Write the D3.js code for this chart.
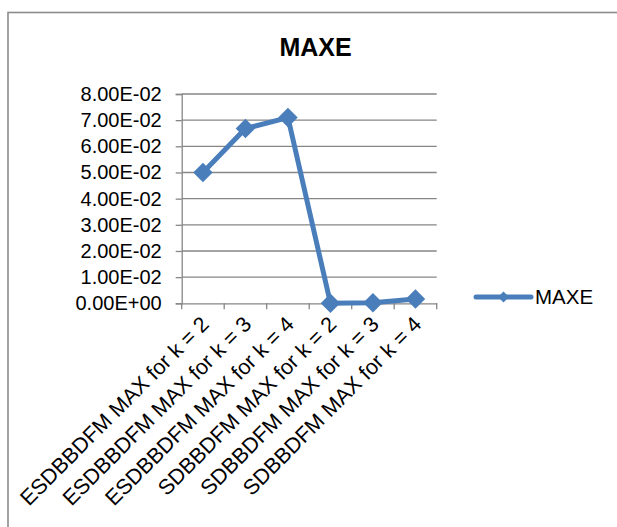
<!DOCTYPE html>
<html>
<head>
<meta charset="utf-8">
<script src="https://cdn.jsdelivr.net/npm/d3@7"></script>
<style>
  html, body { margin: 0; padding: 0; background: #fff; }
  svg { display: block; font-family: Arial, "Liberation Sans", sans-serif; }
</style>
</head>
<body>
<svg id="chart" width="617" height="527"></svg>
<script>
// Chart data
const categories = [
  "ESDBBDFM MAX for k = 2",
  "ESDBBDFM MAX for k = 3",
  "ESDBBDFM MAX for k = 4",
  "SDBBDFM MAX for k = 2",
  "SDBBDFM MAX for k = 3",
  "SDBBDFM MAX for k = 4"
];
const maxeValues = [0.0500, 0.0668, 0.0710, 0.0000, 0.0002, 0.0016];
const yTicks = [0, 0.01, 0.02, 0.03, 0.04, 0.05, 0.06, 0.07, 0.08];
const seriesName = "MAXE";
const chartTitle = "MAXE";

const blue = "#4a7ebb";
const gridColor = "#868686";

const svg = d3.select("#chart");

// Outer chart frame
svg.append("rect")
  .attr("x", 8).attr("y", 12.5)
  .attr("width", 640).attr("height", 560)
  .attr("fill", "none")
  .attr("stroke", "#8c8c8c")
  .attr("stroke-width", 1.6);

// Title
svg.append("text")
  .attr("x", 315.5).attr("y", 56)
  .attr("text-anchor", "middle")
  .attr("font-size", 25).attr("font-weight", "bold")
  .text(chartTitle);

const plot = { left: 181.7, right: 436.7, top: 94, bottom: 303.3 };

const x = d3.scaleBand().domain(categories).range([plot.left, plot.right]);
const y = d3.scaleLinear().domain([0, 0.08]).range([plot.bottom, plot.top]);

// E-notation tick format, e.g. 8.00E-02
const fmt = v => {
  const [m, e] = v.toExponential(2).split("e");
  const sign = e[0];
  const digits = e.slice(1).padStart(2, "0");
  return `${m}E${sign}${digits}`;
};

// Horizontal gridlines
svg.append("g")
  .selectAll("line")
  .data(yTicks.filter(t => t > 0))
  .join("line")
  .attr("x1", plot.left).attr("x2", plot.right)
  .attr("y1", d => y(d)).attr("y2", d => y(d))
  .attr("stroke", gridColor).attr("stroke-width", 1.3);

// Y axis
const yAxis = svg.append("g")
  .attr("transform", `translate(${plot.left},0)`)
  .call(d3.axisLeft(y).tickValues(yTicks).tickFormat(fmt).tickSize(6).tickPadding(14));
yAxis.select(".domain").attr("stroke", gridColor).attr("stroke-width", 1.3);
yAxis.selectAll(".tick line").attr("stroke", gridColor).attr("stroke-width", 1.3);
yAxis.selectAll(".tick text")
  .attr("font-size", 20)
  .attr("font-family", "Arial, 'Liberation Sans', sans-serif")
  .attr("fill", "#000");

// X axis
const xAxis = svg.append("g")
  .attr("transform", `translate(0,${plot.bottom})`)
  .call(d3.axisBottom(x).tickSize(0).tickFormat(""));
xAxis.select(".domain").attr("stroke", gridColor).attr("stroke-width", 1.3);

// Category boundary tick marks
const bounds = categories.map(c => x(c)).concat([x(categories[categories.length - 1]) + x.bandwidth()]);
svg.append("g")
  .selectAll("line")
  .data(bounds)
  .join("line")
  .attr("x1", d => d).attr("x2", d => d)
  .attr("y1", plot.bottom).attr("y2", plot.bottom + 6)
  .attr("stroke", gridColor).attr("stroke-width", 1.3);

// Rotated category labels
svg.append("g")
  .selectAll("text")
  .data(categories)
  .join("text")
  .attr("transform", d => `translate(${x(d) + x.bandwidth() / 2 + 2},${plot.bottom + 17}) rotate(-45)`)
  .attr("text-anchor", "end")
  .attr("dy", "0.35em")
  .attr("font-size", 21.5)
  .text(d => d);

// Series line
const cx = d => x(d) + x.bandwidth() / 2;
const line = d3.line()
  .x((d, i) => cx(categories[i]))
  .y(d => y(d));

svg.append("path")
  .datum(maxeValues)
  .attr("d", line)
  .attr("fill", "none")
  .attr("stroke", blue)
  .attr("stroke-width", 5)
  .attr("stroke-linejoin", "round");

// Diamond markers
const diamond = d3.symbol().type(d3.symbolSquare).size(190);
svg.append("g")
  .selectAll("path")
  .data(maxeValues)
  .join("path")
  .attr("d", diamond)
  .attr("transform", (d, i) => `translate(${cx(categories[i])},${y(d)}) rotate(45)`)
  .attr("fill", blue);

// Legend
const legend = svg.append("g").attr("transform", "translate(476,297)");
legend.append("line")
  .attr("x1", 0).attr("x2", 55)
  .attr("stroke", blue).attr("stroke-width", 5)
  .attr("stroke-linecap", "round");
legend.append("path")
  .attr("d", d3.symbol().type(d3.symbolSquare).size(60))
  .attr("transform", "translate(27.5,0) rotate(45)")
  .attr("fill", blue);
legend.append("text")
  .attr("x", 59).attr("y", 0)
  .attr("dy", "0.35em")
  .attr("font-size", 20.5)
  .text(seriesName);
</script>
</body>
</html>
